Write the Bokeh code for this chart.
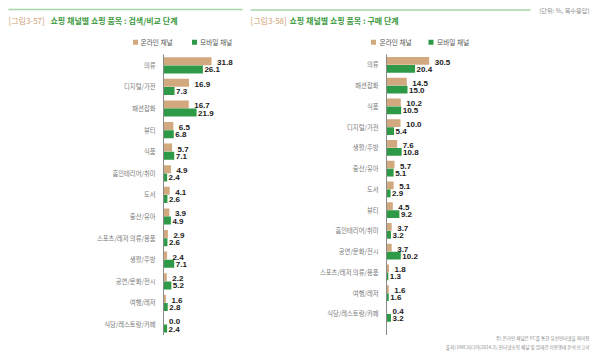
from bokeh.plotting import figure
from bokeh.models import Range1d, FixedTicker, Label, BoxAnnotation, ColumnDataSource
from bokeh.transform import dodge
from bokeh.layouts import row, column
from bokeh.embed import file_html
from bokeh.resources import INLINE
from bokeh.core.properties import value

# ---- data ----
left_cats = ["의류", "디지털/가전", "패션잡화", "뷰티", "식품", "홈인테리어/취미", "도서",
             "출산/유아", "스포츠/레저 의류/용품", "생활/주방", "공연/문화/전시", "여행/레저",
             "식당/레스토랑/카페"]
left_online = [31.8, 16.9, 16.7, 6.5, 5.7, 4.9, 4.1, 3.9, 2.9, 2.4, 2.2, 1.6, 0.0]
left_mobile = [26.1, 7.3, 21.9, 6.8, 7.1, 2.4, 2.6, 4.9, 2.6, 7.1, 5.2, 2.8, 2.4]

right_cats = ["의류", "패션잡화", "식품", "디지털/가전", "생활/주방", "출산/유아", "도서",
              "뷰티", "홈인테리어/취미", "공연/문화/전시", "스포츠/레저 의류/용품", "여행/레저",
              "식당/레스토랑/카페"]
right_online = [30.5, 14.5, 10.2, 10.0, 7.6, 5.7, 5.1, 4.5, 3.7, 3.7, 1.8, 1.6, 0.4]
right_mobile = [20.4, 15.0, 10.5, 5.4, 10.8, 5.1, 2.9, 9.2, 3.2, 10.2, 1.3, 1.6, 3.2]

series_names = ["온라인 채널", "모바일 채널"]
left_title_tag = "[그림3-57]"
left_title = "쇼핑 채널별 쇼핑 품목 : 검색/비교 단계"
right_title_tag = "[그림3-58]"
right_title = "쇼핑 채널별 쇼핑 품목 : 구매 단계"
unit_text = "(단위: %, 복수응답)"
notes = ["주) 온라인 채널은 PC를 통한 유선인터넷을 의미함",
         "출처) DMC미디어(2014.2), 인터넷쇼핑 채널 및 업태간 이용행태 분석 보고서"]

# ---- styles ----
W = 600
HEAD_H, CHART_H, FOOT_H = 54, 281, 22
KR = "Noto Sans CJK KR"
TAN = "#D2A87F"
GREEN = "#2E9A47"
LINE_GREEN = "#A9D4A9"
TITLE_GREEN = "#3C9A40"
TAG_TAN = "#D1A173"
NOTE_GRAY = "#8a8a8a"


def blank(height):
    p = figure(width=W, height=height, output_backend="svg", toolbar_location=None,
               x_range=Range1d(0, W), y_range=Range1d(height, 0),
               x_axis_location=None, y_axis_location=None, min_border=0)
    p.outline_line_color = None
    p.grid.visible = False
    p.background_fill_color = None
    p.border_fill_color = None
    return p


def label(p, x, y, text, size, color, bold=False, align="left"):
    p.add_layout(Label(x=x, y=y, text=text, text_font=KR, text_font_size=size,
                       text_color=color, text_font_style="bold" if bold else "normal",
                       text_align=align, text_baseline="middle"))


def box(p, x0, x1, y0, y1, color):
    p.add_layout(BoxAnnotation(left=x0, right=x1, top=y0, bottom=y1,
                               fill_color=color, fill_alpha=1, line_color=None))


def make_chart(cats, online, mobile, width, fl, xmax, px_per_cat):
    n = len(cats)
    idx = list(range(n))
    p = figure(width=width, height=CHART_H, output_backend="svg", toolbar_location=None,
               y_range=Range1d(CHART_H / px_per_cat - 0.5, -0.5), x_range=Range1d(0, xmax),
               min_border_left=fl, min_border_right=0, min_border_top=0,
               min_border_bottom=0)
    p.outline_line_color = None
    p.background_fill_color = None
    p.border_fill_color = None
    p.xgrid.visible = False
    p.ygrid.visible = False
    p.xaxis.visible = False
    yax = p.yaxis[0]
    yax.ticker = FixedTicker(ticks=idx)
    yax.major_label_overrides = {i: c for i, c in zip(idx, cats)}
    yax.axis_line_color = "#8a8a8a"
    yax.axis_line_width = 1
    yax.major_tick_line_color = None
    yax.minor_tick_line_color = None
    yax.major_tick_out = 0
    yax.major_label_standoff = 8
    yax.major_label_text_font = KR
    yax.major_label_text_font_size = "6.3px"
    yax.major_label_text_color = "#7a7a7a"

    src = ColumnDataSource(dict(idx=idx, online=online, mobile=mobile,
                                online_t=["%.1f" % v for v in online],
                                mobile_t=["%.1f" % v for v in mobile]))
    p.hbar(y=dodge("idx", -0.19), right="online", left=0, height=0.37,
           source=src, fill_color=TAN, line_color=None)
    p.hbar(y=dodge("idx", 0.19), right="mobile", left=0, height=0.37,
           source=src, fill_color=GREEN, line_color=None)
    common = dict(source=src, text_font=value("Liberation Sans"), text_font_style="bold",
                  text_font_size="8px", text_color="#1a1a1a", text_baseline="middle")
    p.text(x="online", y=dodge("idx", -0.19), text="online_t", x_offset=5.5, y_offset=1.5,
           **common)
    p.text(x="mobile", y=dodge("idx", 0.19), text="mobile_t", x_offset=1.5, y_offset=0.5,
           **common)
    return p


left = make_chart(left_cats, left_online, left_mobile, 248, 163, 85 / 1.51, 21.6)
right = make_chart(right_cats, right_online, right_mobile, 352, 138, 214 / 1.40, 20.75)

# ---- header: rules, titles, unit, legends ----
head = blank(HEAD_H)
box(head, 8, 242, 8.3, 9.8, LINE_GREEN)
box(head, 250, 530, 8.8, 10.3, LINE_GREEN)
label(head, 8, 20, left_title_tag, "8px", TAG_TAN)
label(head, 50, 20, left_title, "8px", TITLE_GREEN, bold=True)
label(head, 250, 20, right_title_tag, "8px", TAG_TAN)
label(head, 289, 20, right_title, "8px", TITLE_GREEN, bold=True)
label(head, 589, 10, unit_text, "6.2px", NOTE_GRAY, align="right")

for sq_x, tx_x in [(132.5, 140), (370.5, 379)]:
    box(head, sq_x, sq_x + 5, 39.3, 44.3, TAN)
    label(head, tx_x, 41.8, series_names[0], "6.7px", "#555555")
for sq_x, tx_x in [(191.5, 199.5), (428, 436.5)]:
    box(head, sq_x, sq_x + 5, 39.3, 44.3, GREEN)
    label(head, tx_x, 41.8, series_names[1], "6.7px", "#555555")

# ---- footer: notes ----
foot = blank(FOOT_H)
label(foot, 589, 2.7, notes[0], "4.6px", NOTE_GRAY, align="right")
label(foot, 589, 11, notes[1], "4.6px", NOTE_GRAY, align="right")

page = column(head, row(left, right), foot)
open("out.html", "w").write(file_html(page, INLINE))
